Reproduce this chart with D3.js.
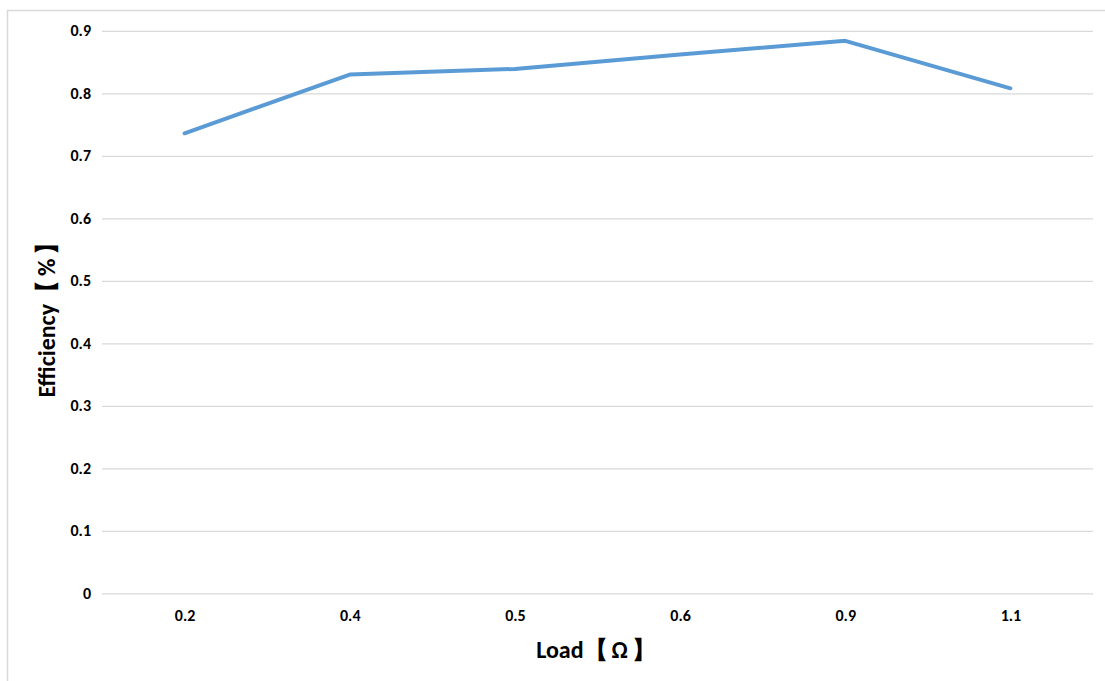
<!DOCTYPE html>
<html><head><meta charset="utf-8">
<script src="https://cdn.jsdelivr.net/npm/d3@7"></script>
<style>body{margin:0;background:#fff}svg{display:block}text{font-family:Calibri,Carlito,"Open Sans","Liberation Sans",sans-serif;font-weight:bold;fill:#000}</style>
</head><body>
<script>
const categories = ["0.2","0.4","0.5","0.6","0.9","1.1"];
const efficiency = [0.736, 0.830, 0.839, 0.862, 0.884, 0.808];
const yTicks = [0,0.1,0.2,0.3,0.4,0.5,0.6,0.7,0.8,0.9];

const W=1105,H=681;
const m={left:102,right:12,top:30.8,bottom:87.7};
const svg=d3.select("body").append("svg").attr("width",W).attr("height",H);
svg.append("rect").attr("x",7.5).attr("y",10.5).attr("width",W+10).attr("height",H+10).attr("fill","#fff").attr("stroke","#d9d9d9").attr("stroke-width",1.5);

const x=d3.scalePoint().domain(categories).range([m.left,W-m.right]).padding(0.5);
const y=d3.scaleLinear().domain([0,0.9]).range([H-m.bottom,m.top]);

const gy=svg.append("g").attr("transform",`translate(${m.left},0)`)
  .call(d3.axisLeft(y).tickValues(yTicks).tickFormat(d=>d===0?"0":d3.format(".1f")(d)).tickSize(-(W-m.left-m.right)).tickPadding(11));
gy.select(".domain").remove();
gy.selectAll("line").attr("stroke","#d9d9d9").attr("stroke-width",1.3);
gy.selectAll("text").attr("font-size",16);

const gx=svg.append("g").attr("transform",`translate(0,${H-m.bottom})`)
  .call(d3.axisBottom(x).tickSize(0).tickPadding(16));
gx.select(".domain").remove();
gx.selectAll("text").attr("font-size",16);

svg.append("path").datum(efficiency)
  .attr("d",d3.line().x((d,i)=>x(categories[i])).y(d=>y(d)))
  .attr("fill","none").attr("stroke","#5b9bd5").attr("stroke-width",4)
  .attr("stroke-linecap","round").attr("stroke-linejoin","round");

const xt=svg.append("text").attr("x",598).attr("y",658).attr("text-anchor","middle").attr("font-size",24);
xt.append("tspan").text("Load");
xt.append("tspan").attr("letter-spacing","4px").text("【Ω】");
const yt=svg.append("text").attr("transform","translate(55,312) rotate(-90)").attr("text-anchor","middle").attr("font-size",24);
yt.append("tspan").text("Efficiency");
yt.append("tspan").attr("letter-spacing","4px").text("【%】");
</script>
</body></html>
